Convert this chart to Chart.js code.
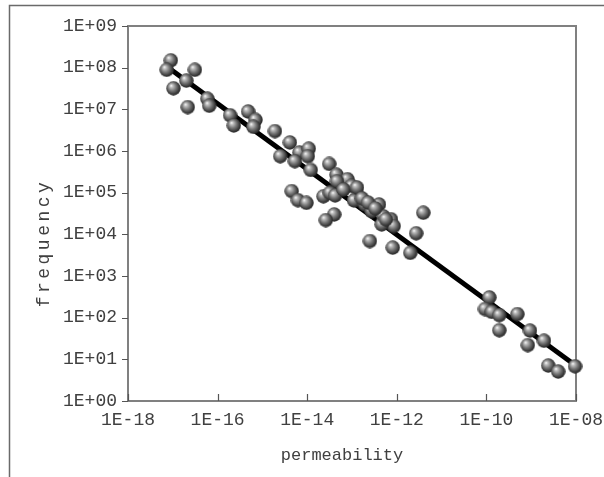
<!DOCTYPE html>
<html><head><meta charset="utf-8">
<script src="https://cdn.jsdelivr.net/npm/chart.js@4"></script>
<style>html,body{margin:0;padding:0;background:#fff}canvas{display:block}</style>
</head><body>
<canvas id="c" width="604" height="477"></canvas>
<script>
const permeability = [
  9.0e-18, 7.3e-18, 1.03e-17, 3.1e-17, 2.0e-17, 2.15e-17, 5.9e-17, 6.5e-17,
  1.9e-16, 2.3e-16, 4.8e-16, 7.0e-16, 6.3e-16, 1.9e-15, 2.5e-15, 4.1e-15,
  6.7e-15, 1.08e-14, 1.03e-14, 5.3e-15, 1.2e-14, 3.1e-14, 4.5e-14, 7.9e-14,
  4.6e-14, 9.8e-14, 4.5e-15, 6.2e-15, 9.6e-15, 2.3e-14, 3.2e-14, 4.2e-14,
  6.4e-14, 1.36e-13, 1.11e-13, 1.95e-13, 4.0e-13, 2.75e-13, 5.0e-13, 7.4e-13,
  8.5e-13, 4.6e-13, 4.0e-14, 2.6e-14, 3.9e-12, 2.7e-12, 2.5e-13, 8.1e-13,
  2.0e-12, 1.29e-13, 1.67e-13, 2.28e-13, 3.3e-13, 5.7e-13,
  1.16e-10, 9.3e-11, 1.31e-10, 1.94e-10, 1.94e-10, 4.9e-10, 9.4e-10, 8.4e-10,
  1.93e-9, 2.4e-9, 4.0e-9, 9.5e-9
];
const frequency = [
  1.5e8, 8.9e7, 3.2e7, 8.9e7, 4.9e7, 1.13e7, 1.8e7, 1.22e7,
  7.2e6, 4.1e6, 8.9e6, 5.6e6, 3.8e6, 3.0e6, 7.5e5, 1.6e6,
  9.2e5, 1.14e6, 7.5e5, 5.7e5, 3.5e5, 4.9e5, 2.7e5, 2.1e5,
  1.88e5, 1.46e5, 1.09e5, 6.6e4, 5.7e4, 8.2e4, 9.9e4, 8.6e4,
  1.19e5, 8.3e4, 6.5e4, 5.2e4, 5.2e4, 3.6e4, 2.7e4, 2.3e4,
  1.58e4, 1.73e4, 3.0e4, 2.2e4, 3.3e4, 1.06e4, 6.9e3, 4.8e3,
  3.6e3, 1.33e5, 7.3e4, 5.8e4, 4.2e4, 2.3e4,
  306, 161, 138, 115, 50, 122, 49, 22,
  28, 7.1, 5.1, 6.8
];
const trendPermeability = [8e-18, 1e-8];
const trendFrequency = [1e8, 7];
const xTickValues = [1e-18, 1e-16, 1e-14, 1e-12, 1e-10, 1e-8];
const xTickLabels = ['1E-18', '1E-16', '1E-14', '1E-12', '1E-10', '1E-08'];
const yTickValues = [1, 1e1, 1e2, 1e3, 1e4, 1e5, 1e6, 1e7, 1e8, 1e9];
const yTickLabels = ['1E+00', '1E+01', '1E+02', '1E+03', '1E+04', '1E+05', '1E+06', '1E+07', '1E+08', '1E+09'];
const xTitle = 'permeability';
const yTitle = 'frequency';

// sphere marker
const ball = document.createElement('canvas');
ball.width = 15; ball.height = 15;
(function(){
  const g = ball.getContext('2d');
  const grd = g.createRadialGradient(5.2, 4.8, 0.3, 7, 7, 8);
  grd.addColorStop(0, '#f6f6f6');
  grd.addColorStop(0.16, '#c2c2c2');
  grd.addColorStop(0.5, '#777');
  grd.addColorStop(0.82, '#3a3a3a');
  grd.addColorStop(1, '#222');
  g.fillStyle = grd;
  g.beginPath(); g.arc(7.5, 7.5, 7.2, 0, Math.PI * 2); g.fill();
})();

const FONT = '"Liberation Mono", "DejaVu Sans Mono", monospace';
const TXT = '#404040';

const decor = {
  id: 'decor',
  beforeDraw(chart) {
    const c = chart.ctx;
    c.save();
    c.strokeStyle = '#6a6a6a'; c.lineWidth = 1.5;
    c.beginPath(); c.moveTo(9.5, 477); c.lineTo(9.5, 5.5); c.lineTo(604, 5.5); c.stroke();
    c.restore();
  },
  beforeDatasetsDraw(chart) {
    const c = chart.ctx, a = chart.chartArea;
    const xs = chart.scales.x, ys = chart.scales.y;
    c.save();
    c.strokeStyle = '#808080'; c.lineWidth = 2;
    c.strokeRect(a.left, a.top, a.right - a.left, a.bottom - a.top);
    c.lineWidth = 1.2; c.strokeStyle = '#555';
    c.beginPath();
    yTickValues.forEach(v => { const p = Math.round(ys.getPixelForValue(v)) + 0.5; c.moveTo(a.left - 6, p); c.lineTo(a.left, p); });
    xTickValues.forEach(v => { const p = Math.round(xs.getPixelForValue(v)) + 0.5; c.moveTo(p, a.bottom); c.lineTo(p, a.bottom - 7); });
    c.stroke();
    c.restore();
  },
  afterDraw(chart) {
    const c = chart.ctx;
    c.save();
    c.fillStyle = TXT;
    c.font = '17px ' + FONT;
    c.textAlign = 'center'; c.textBaseline = 'middle';
    c.fillText(xTitle, 342, 455);
    c.translate(44, 243); c.rotate(-Math.PI / 2);
    c.font = '18px ' + FONT;
    try { c.letterSpacing = '3.5px'; } catch (e) {}
    c.fillText(yTitle, 0, 0);
    c.restore();
  }
};

new Chart(document.getElementById('c'), {
  type: 'scatter',
  data: {
    datasets: [
      {
        type: 'scatter',
        data: permeability.map((k, i) => ({ x: k, y: frequency[i] })),
        pointStyle: ball, pointRadius: 7.5, clip: false
      },
      {
        type: 'line',
        data: trendPermeability.map((k, i) => ({ x: k, y: trendFrequency[i] })),
        borderColor: '#000', borderWidth: 5, pointRadius: 0, fill: false, showLine: true
      }
    ]
  },
  options: {
    responsive: false, animation: false, devicePixelRatio: 1,
    layout: { padding: { top: 26, right: 28, left: 0, bottom: 0 } },
    plugins: { legend: { display: false }, tooltip: { enabled: false } },
    scales: {
      x: {
        type: 'logarithmic', min: 1e-18, max: 1e-8,
        afterBuildTicks: s => { s.ticks = xTickValues.map(v => ({ value: v })); },
        afterFit: s => { s.height = 76; s.paddingLeft = 0; s.paddingRight = 0; },
        grid: { display: false, drawTicks: false }, border: { display: false },
        ticks: { autoSkip: false, maxRotation: 0, padding: 8, color: TXT, font: { family: FONT, size: 18 },
          callback: (v) => xTickLabels[xTickValues.findIndex(t => Math.abs(Math.log10(t) - Math.log10(v)) < 1e-6)] }
      },
      y: {
        type: 'logarithmic', min: 1, max: 1e9,
        afterBuildTicks: s => { s.ticks = yTickValues.map(v => ({ value: v })); },
        afterFit: s => { s.width = 128; s.paddingTop = 0; s.paddingBottom = 0; },
        grid: { display: false, drawTicks: false }, border: { display: false },
        ticks: { autoSkip: false, padding: 11, color: TXT, font: { family: FONT, size: 18 },
          callback: (v) => yTickLabels[yTickValues.findIndex(t => Math.abs(Math.log10(t) - Math.log10(v)) < 1e-6)] }
      }
    }
  },
  plugins: [decor]
});
</script>
</body></html>
